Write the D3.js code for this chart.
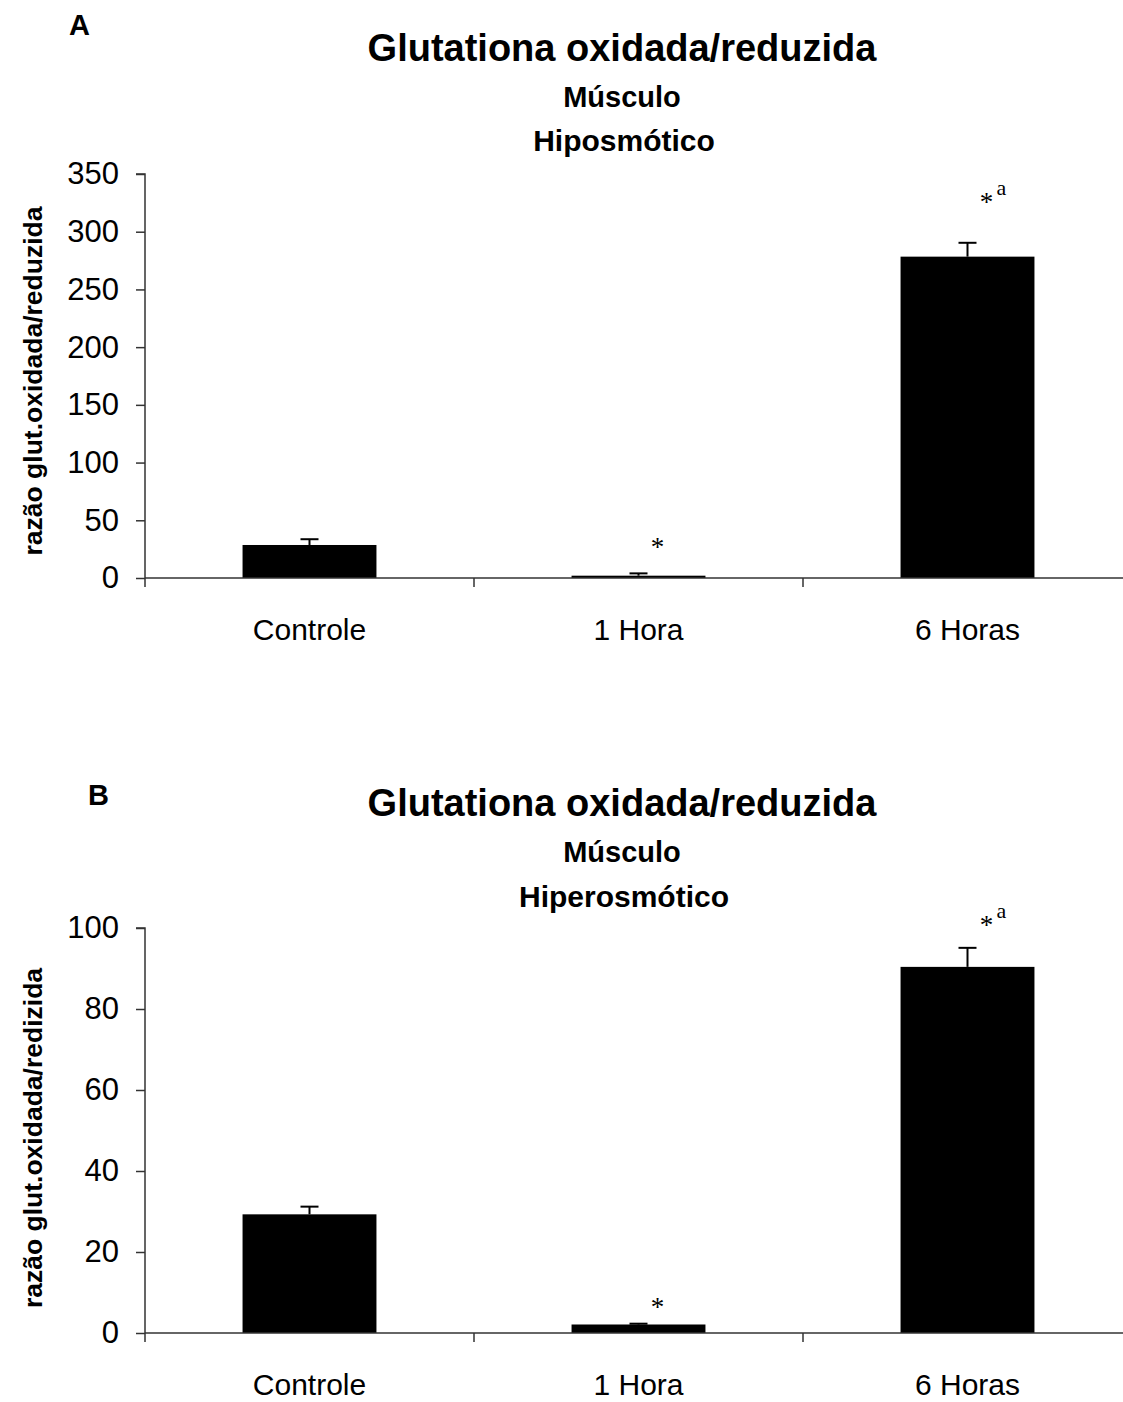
<!DOCTYPE html>
<html>
<head>
<meta charset="utf-8">
<script src="https://cdn.jsdelivr.net/npm/d3@7"></script>
<style>
  html, body { margin: 0; padding: 0; background: #fff; }
  svg { display: block; }
</style>
</head>
<body>
<svg id="chart" width="1123" height="1402"></svg>
<script>
// ---- data ----
const categories = ["Controle", "1 Hora", "6 Horas"];

const panelLetters = ["A", "B"];
const titles = ["Glutationa oxidada/reduzida", "Glutationa oxidada/reduzida"];
const subtitles1 = ["Músculo", "Músculo"];
const subtitles2 = ["Hiposmótico", "Hiperosmótico"];
const yLabels = ["razão glut.oxidada/reduzida", "razão glut.oxidada/redizida"];

const valuesA = [28.6, 2.0, 278.4];
const errorsA = [5.0, 2.0, 12.0];
const yTicksA = [0, 50, 100, 150, 200, 250, 300, 350];
const yMaxA = 350;
const marksA = ["", "*", "*"];
const supA = ["", "", "a"];
const markPosA = [null, 31, 330];

const valuesB = [29.3, 2.1, 90.4];
const errorsB = [1.9, 0.2, 4.7];
const yTicksB = [0, 20, 40, 60, 80, 100];
const yMaxB = 100;
const marksB = ["", "*", "*"];
const supB = ["", "", "a"];
const markPosB = [null, 7.7, 102];

// ---- drawing ----
const svg = d3.select("#chart");
const sansFont = "Arial, 'Liberation Sans', Helvetica, sans-serif";
const serifFont = "'Times New Roman', 'Liberation Serif', 'DejaVu Serif', serif";

const panels = [
  { letter: panelLetters[0], title: titles[0], s1: subtitles1[0], s2: subtitles2[0], ylab: yLabels[0],
    values: valuesA, errors: errorsA, ticks: yTicksA, yMax: yMaxA, marks: marksA, sups: supA, markPos: markPosA,
    top: 174, bottom: 578, letterPos: [69, 35], titleY: 61, s1Y: 107, s2Y: 151, ylabY: 381 },
  { letter: panelLetters[1], title: titles[1], s1: subtitles1[1], s2: subtitles2[1], ylab: yLabels[1],
    values: valuesB, errors: errorsB, ticks: yTicksB, yMax: yMaxB, marks: marksB, sups: supB, markPos: markPosB,
    top: 928, bottom: 1333, letterPos: [88, 805], titleY: 816, s1Y: 862, s2Y: 907, ylabY: 1138 }
];

const xLeft = 145, step = 329;
const x = d3.scaleBand()
  .domain(categories)
  .range([xLeft, xLeft + step * categories.length])
  .paddingInner(0.593)
  .paddingOuter(0.2965);

panels.forEach(p => {
  const g = svg.append("g");
  const y = d3.scaleLinear().domain([0, p.yMax]).range([p.bottom, p.top]);

  // panel letter
  g.append("text")
    .attr("x", p.letterPos[0]).attr("y", p.letterPos[1])
    .attr("font-family", sansFont).attr("font-weight", "bold").attr("font-size", 29)
    .text(p.letter);

  // titles
  const cx = 622;
  g.append("text").attr("x", cx).attr("y", p.titleY).attr("text-anchor", "middle")
    .attr("font-family", sansFont).attr("font-weight", "bold").attr("font-size", 38)
    .text(p.title);
  g.append("text").attr("x", cx).attr("y", p.s1Y).attr("text-anchor", "middle")
    .attr("font-family", sansFont).attr("font-weight", "bold").attr("font-size", 29)
    .text(p.s1);
  g.append("text").attr("x", cx + 2).attr("y", p.s2Y).attr("text-anchor", "middle")
    .attr("font-family", sansFont).attr("font-weight", "bold").attr("font-size", 30)
    .text(p.s2);

  // y label
  g.append("text")
    .attr("transform", `translate(42,${p.ylabY}) rotate(-90)`)
    .attr("text-anchor", "middle")
    .attr("font-family", sansFont).attr("font-weight", "bold").attr("font-size", 26.5)
    .text(p.ylab);

  // bars
  g.selectAll("rect.bar").data(categories).enter().append("rect")
    .attr("class", "bar")
    .attr("x", d => x(d))
    .attr("width", x.bandwidth())
    .attr("y", (d, i) => y(p.values[i]))
    .attr("height", (d, i) => y(0) - y(p.values[i]))
    .attr("fill", "#000");

  // error bars (upper only)
  const capW = 18;
  categories.forEach((c, i) => {
    const xc = x(c) + x.bandwidth() / 2;
    const yTop = y(p.values[i] + p.errors[i]);
    g.append("line").attr("x1", xc).attr("x2", xc)
      .attr("y1", y(p.values[i])).attr("y2", yTop)
      .attr("stroke", "#000").attr("stroke-width", 2);
    g.append("line").attr("x1", xc - capW / 2).attr("x2", xc + capW / 2)
      .attr("y1", yTop).attr("y2", yTop)
      .attr("stroke", "#000").attr("stroke-width", 2);
  });

  // significance marks
  categories.forEach((c, i) => {
    if (!p.marks[i]) return;
    const xc = x(c) + x.bandwidth() / 2 + 19;
    const yc = y(p.markPos[i]);
    g.append("text").attr("x", xc).attr("y", yc + 14).attr("text-anchor", "middle")
      .attr("font-family", serifFont).attr("font-size", 27)
      .text(p.marks[i]);
    if (p.sups[i]) {
      g.append("text").attr("x", xc + 10).attr("y", yc - 2)
        .attr("font-family", serifFont).attr("font-size", 22)
        .text(p.sups[i]);
    }
  });

  // y axis
  const yAxis = d3.axisLeft(y).tickValues(p.ticks).tickSize(9).tickPadding(17).tickFormat(d3.format("d"));
  const ya = g.append("g").attr("transform", `translate(${xLeft},0)`).call(yAxis);
  ya.select(".domain").attr("stroke", "#333").attr("stroke-width", 1.5).attr("d", `M-9,${p.top}H0V${p.bottom + 9}`);
  ya.selectAll(".tick line").attr("stroke", "#333").attr("stroke-width", 1.5);
  ya.selectAll(".tick text").attr("font-family", sansFont).attr("font-size", 31).attr("fill", "#000");

  // x axis
  const xa = g.append("g").attr("transform", `translate(0,${p.bottom})`);
  xa.append("line").attr("x1", xLeft).attr("x2", 1123).attr("y1", 0).attr("y2", 0)
    .attr("stroke", "#333").attr("stroke-width", 1.5);
  const tickPositions = d3.range(1, categories.length).map(k => x(categories[k]) - x.step() * x.paddingInner() / 2);
  xa.selectAll("line.xt").data(tickPositions).enter().append("line")
    .attr("class", "xt")
    .attr("x1", d => d).attr("x2", d => d).attr("y1", 0).attr("y2", 9)
    .attr("stroke", "#333").attr("stroke-width", 1.5);
  xa.selectAll("text.xl").data(categories).enter().append("text")
    .attr("class", "xl")
    .attr("x", d => x(d) + x.bandwidth() / 2)
    .attr("y", 62)
    .attr("text-anchor", "middle")
    .attr("font-family", sansFont).attr("font-size", 30).attr("fill", "#000")
    .text(d => d);
});
</script>
</body>
</html>
